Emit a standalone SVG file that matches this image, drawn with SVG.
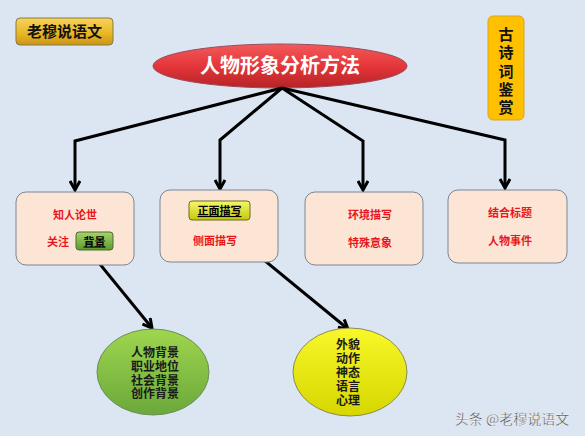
<svg xmlns="http://www.w3.org/2000/svg" width="585" height="436" viewBox="0 0 585 436">
<defs>
<linearGradient id="gold" x1="0" y1="0" x2="0" y2="1"><stop offset="0" stop-color="#f6d45a"/><stop offset="0.6" stop-color="#e8b523"/><stop offset="1" stop-color="#c99517"/></linearGradient>
<linearGradient id="red" x1="0" y1="0" x2="0" y2="1"><stop offset="0" stop-color="#f25a5a"/><stop offset="0.5" stop-color="#e5363a"/><stop offset="1" stop-color="#b52427"/></linearGradient>
<linearGradient id="grnbtn" x1="0" y1="0" x2="0" y2="1"><stop offset="0" stop-color="#a5d46a"/><stop offset="1" stop-color="#5c9a2c"/></linearGradient>
<linearGradient id="ylwbtn" x1="0" y1="0" x2="0" y2="1"><stop offset="0" stop-color="#f5f76a"/><stop offset="1" stop-color="#c4c90c"/></linearGradient>
<linearGradient id="grnell" x1="0" y1="0" x2="0" y2="1"><stop offset="0" stop-color="#9fd64f"/><stop offset="1" stop-color="#6aa83a"/></linearGradient>
<linearGradient id="ylwell" x1="0" y1="0" x2="0" y2="1"><stop offset="0" stop-color="#f8f82a"/><stop offset="1" stop-color="#d6d600"/></linearGradient>
<marker id="arr" markerWidth="12" markerHeight="12" viewBox="0 0 12 12" refX="10" refY="6" orient="auto" markerUnits="userSpaceOnUse"><path d="M1,1 L10,6 L1,11" fill="none" stroke="#000" stroke-width="3"/></marker>
</defs>
<style>
.cn{font-family:"Noto Sans CJK SC","Noto Sans",sans-serif;font-weight:bold;text-anchor:middle}
.red{fill:#e8161c;font-size:11px}
.box{fill:#fde5d6;stroke:#7a8594;stroke-width:1}
.con{fill:none;stroke:#000;stroke-width:3;marker-end:url(#arr)}
.dk{fill:#1a1a1a;font-size:12px}
</style>
<rect width="585" height="436" fill="#dce6f2"/>
<g id="badge">
<rect x="16" y="18" width="97" height="27" rx="4" fill="url(#gold)" stroke="#8a7a40" stroke-width="1"/>
<text class="cn" x="64.5" y="37" font-size="15" fill="#111">老穆说语文</text>
</g>
<g id="title">
<ellipse cx="280" cy="66" rx="127" ry="22" fill="url(#red)" stroke="#9a4a60" stroke-width="1"/>
<text class="cn" x="280" y="73" font-size="20" fill="#fff">人物形象分析方法</text>
</g>
<g id="side">
<rect x="488" y="16" width="36" height="104" rx="5" fill="#ffc000" stroke="#d9a520" stroke-width="1"/>
<text class="cn" font-size="15" fill="#111"><tspan x="506" y="40">古</tspan><tspan x="506" y="58">诗</tspan><tspan x="506" y="77">词</tspan><tspan x="506" y="95">鉴</tspan><tspan x="506" y="113">赏</tspan></text>
</g>
<g id="connectors">
<polyline class="con" points="282,88 75,141 75,190"/>
<polyline class="con" points="282,88 220,140 220,189"/>
<polyline class="con" points="282,88 363,141 363,190"/>
<polyline class="con" points="282,88 505,140 505,188"/>
<line class="con" x1="90" y1="252" x2="152" y2="328"/>
<line class="con" x1="214" y1="219" x2="348" y2="329"/>
</g>
<g id="box1">
<rect class="box" x="16" y="192" width="118" height="73" rx="10"/>
<text class="cn red" x="75" y="219">知人论世</text>
<text class="cn red" x="58" y="246">关注</text>
</g>
<g id="btn1">
<rect x="76" y="232" width="37" height="18" rx="3" fill="url(#grnbtn)" stroke="#4a6b30" stroke-width="1"/>
<text class="cn" x="94.5" y="245.5" font-size="11" fill="#000" text-decoration="underline">背景</text>
</g>
<g id="box2">
<rect class="box" x="160" y="190" width="118" height="72" rx="10"/>
<text class="cn red" x="215" y="245">侧面描写</text>
</g>
<g id="btn2">
<rect x="189" y="201" width="61" height="19" rx="3" fill="url(#ylwbtn)" stroke="#6b6b20" stroke-width="1"/>
<text class="cn" x="219.5" y="215" font-size="11" fill="#000" text-decoration="underline">正面描写</text>
</g>
<g id="box3">
<rect class="box" x="305" y="192" width="118" height="73" rx="10"/>
<text class="cn red" x="370" y="219">环境描写</text>
<text class="cn red" x="370" y="247">特殊意象</text>
</g>
<g id="box4">
<rect class="box" x="448" y="190" width="119" height="73" rx="10"/>
<text class="cn red" x="510" y="217">结合标题</text>
<text class="cn red" x="510" y="245">人物事件</text>
</g>
<g id="green">
<ellipse cx="153" cy="372" rx="56" ry="43" fill="url(#grnell)" stroke="#6b8e5a" stroke-width="1"/>
<text class="cn dk"><tspan x="155" y="357">人物背景</tspan><tspan x="155" y="371">职业地位</tspan><tspan x="155" y="385">社会背景</tspan><tspan x="155" y="398">创作背景</tspan></text>
</g>
<g id="yellow">
<ellipse cx="350" cy="372" rx="57" ry="44" fill="url(#ylwell)" stroke="#8a8a5a" stroke-width="1"/>
<text class="cn dk"><tspan x="348" y="349">外貌</tspan><tspan x="348" y="363">动作</tspan><tspan x="348" y="377">神态</tspan><tspan x="348" y="391">语言</tspan><tspan x="348" y="405">心理</tspan></text>
</g>
<text x="512" y="424" font-family="'Noto Sans CJK SC',sans-serif" font-size="14" fill="#4a4a4a" text-anchor="middle" stroke="#ffffff" stroke-width="0.3">头条 @老穆说语文</text>
</svg>
